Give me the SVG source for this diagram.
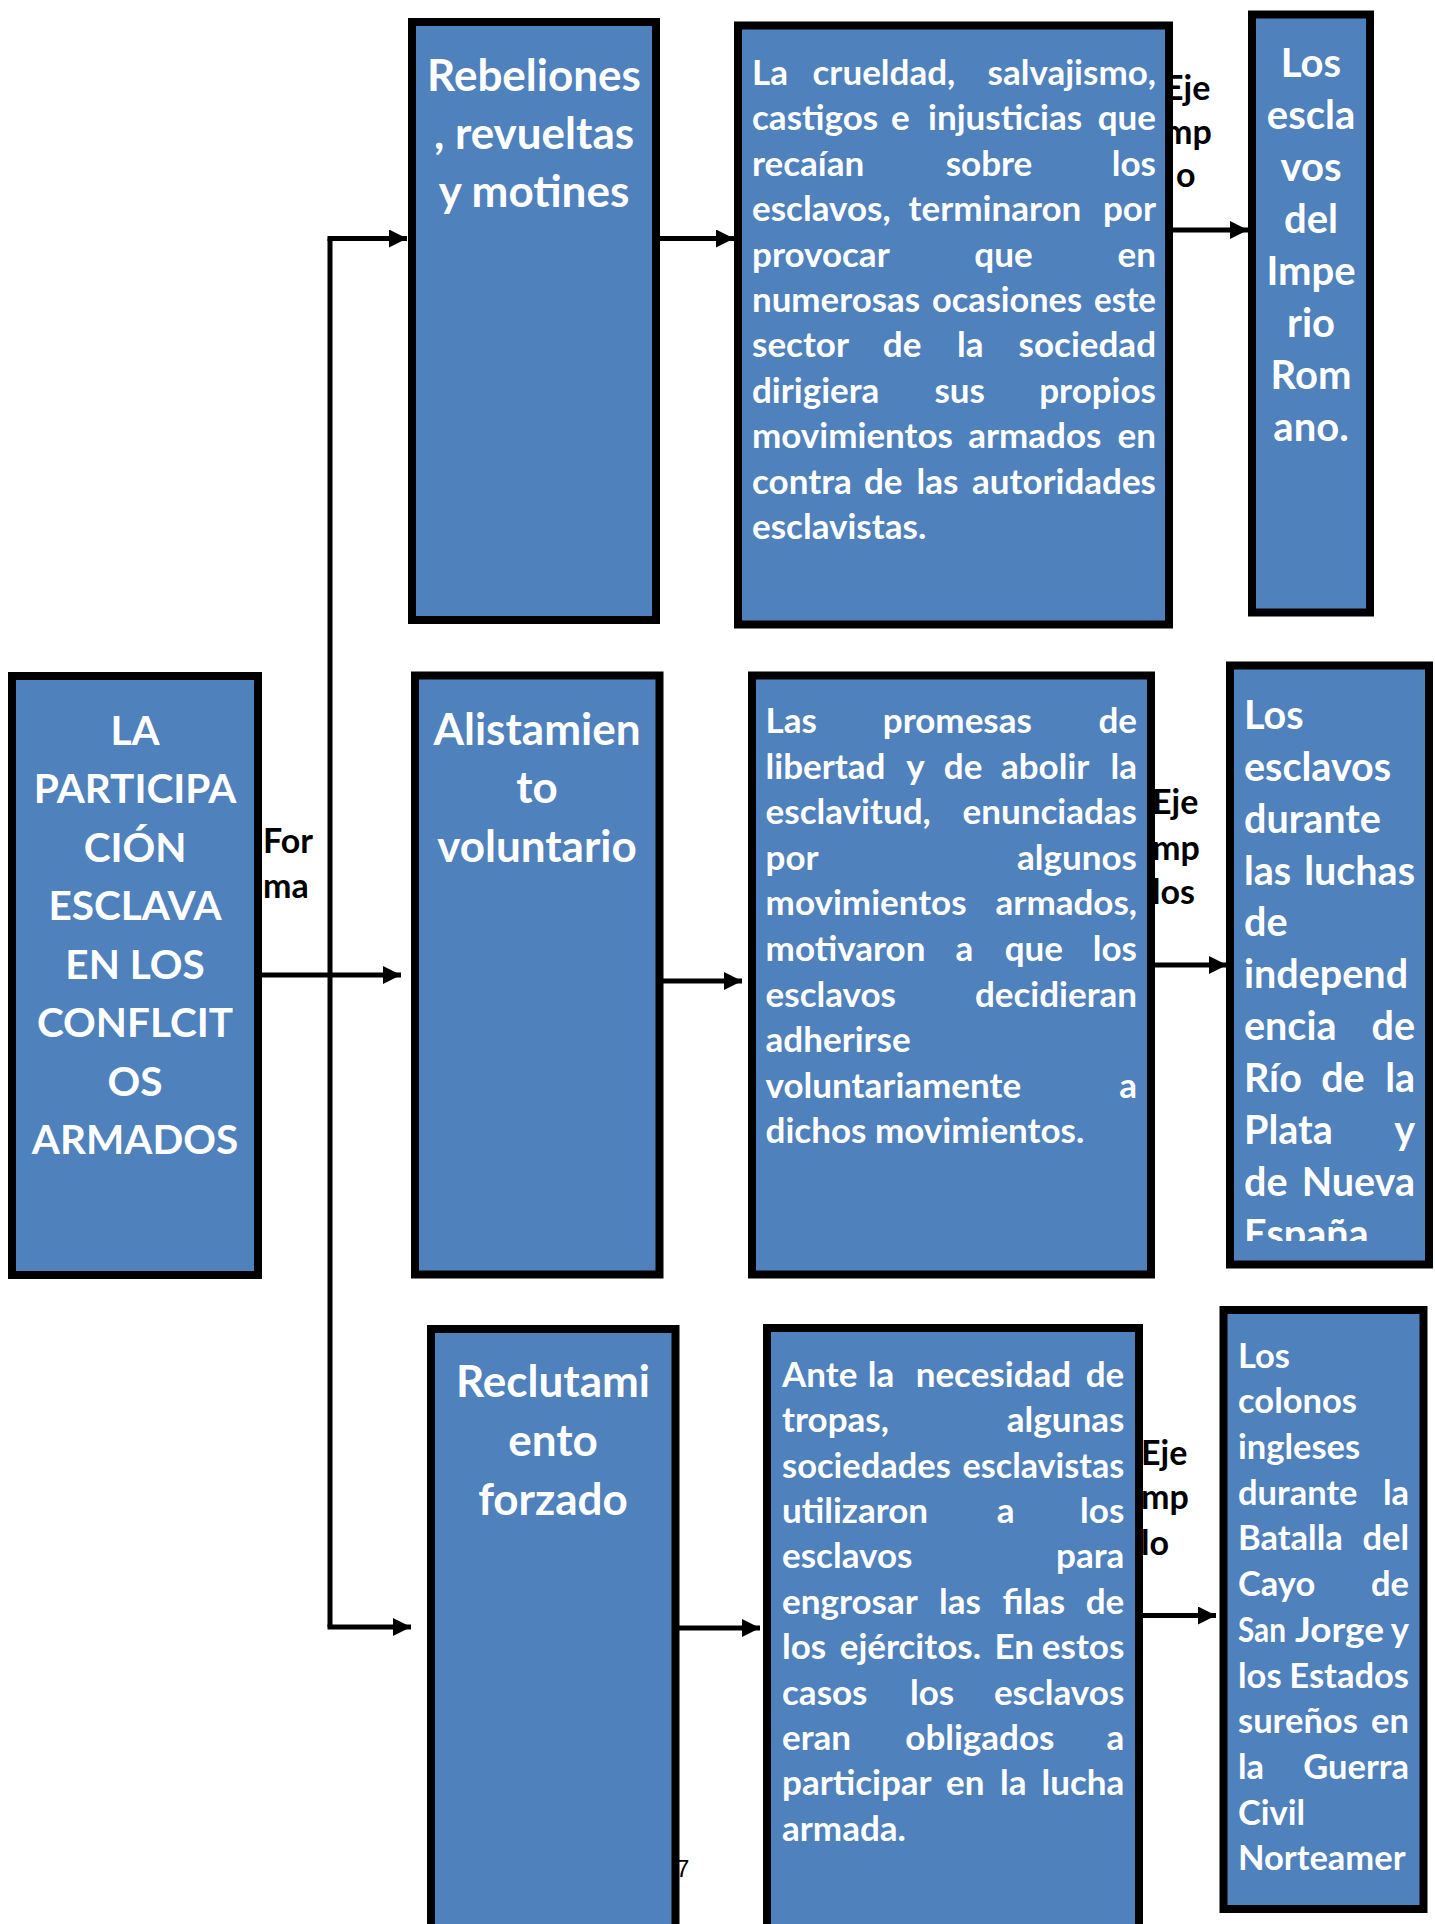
<svg xmlns="http://www.w3.org/2000/svg" width="1435" height="1924" viewBox="0 0 1435 1924">
<style>
.box{fill:#4F81BD;stroke:#000;stroke-width:8}
.w{font-family:Lato,"Open Sans","Liberation Sans",sans-serif;font-weight:700;fill:#fff}
.ttl{font-size:44px;text-anchor:middle}
.ctr{font-size:40.5px;text-anchor:middle}
.body{font-size:35px}
.b4{font-size:40px;text-anchor:middle}
.b6{font-size:39.5px}
.b9{font-size:34.5px}
.r{text-anchor:end}
.lbl{font-family:Lato,"Open Sans","Liberation Sans",sans-serif;font-weight:700;font-size:34px;fill:#000}
.conn{stroke:#000;stroke-width:5;fill:none}
</style>
<defs>
<marker id="ah" viewBox="0 0 18 18" refX="18" refY="9" markerWidth="18" markerHeight="18" markerUnits="userSpaceOnUse" orient="auto">
<path d="M0,0 L18,9 L0,18 z" fill="#000"/>
</marker>
<clipPath id="c6"><rect x="1234" y="668" width="192" height="573"/></clipPath>
</defs>
<rect width="1435" height="1924" fill="#fff"/>

<g id="labels">
<text class="lbl"><tspan x="263" y="852.5">For</tspan><tspan x="263" y="898">ma</tspan></text>
<text class="lbl"><tspan x="1164" y="99.6">Eje</tspan><tspan x="1164" y="143.5">mp</tspan><tspan x="1176" y="187">o</tspan></text>
<text class="lbl"><tspan x="1152" y="814">Eje</tspan><tspan x="1152" y="859.5">mp</tspan><tspan x="1152" y="904">los</tspan></text>
<text class="lbl"><tspan x="1141" y="1465">Eje</tspan><tspan x="1141" y="1509">mp</tspan><tspan x="1141" y="1554.7">lo</tspan></text>
<text x="676" y="1877" font-family="Liberation Sans,sans-serif" font-size="24" fill="#000">7</text>
</g>

<g id="connectors">
<path class="conn" d="M262,975 H401" marker-end="url(#ah)"/>
<path class="conn" d="M330,1627 V238.5"/>
<path class="conn" d="M327.5,238.5 H407" marker-end="url(#ah)"/>
<path class="conn" d="M327.5,1627 H411" marker-end="url(#ah)"/>
<path class="conn" d="M660,238.5 H734" marker-end="url(#ah)"/>
<path class="conn" d="M1173,230 H1248" marker-end="url(#ah)"/>
<path class="conn" d="M663,981 H742" marker-end="url(#ah)"/>
<path class="conn" d="M1151,965 H1227" marker-end="url(#ah)"/>
<path class="conn" d="M679,1628 H760" marker-end="url(#ah)"/>
<path class="conn" d="M1143,1615.5 H1216" marker-end="url(#ah)"/>
</g>

<g id="node-center">
<rect class="box" x="12" y="676" width="246" height="599"/>
<text class="w ctr"><tspan x="135" y="744.6">LA</tspan><tspan x="135" y="803.1">PARTICIPA</tspan><tspan x="135" y="861.6">CIÓN</tspan><tspan x="135" y="920.1">ESCLAVA</tspan><tspan x="135" y="978.6">EN LOS</tspan><tspan x="135" y="1037.1">CONFLCIT</tspan><tspan x="135" y="1095.6">OS</tspan><tspan x="135" y="1154.1">ARMADOS</tspan></text>
</g>

<g id="node-rebeliones">
<rect class="box" x="412" y="22" width="244" height="598"/>
<text class="w ttl"><tspan x="534" y="90.5">Rebeliones</tspan><tspan x="534" y="148.5">, revueltas</tspan><tspan x="534" y="206.5">y motines</tspan></text>
</g>

<g id="node-texto1">
<rect class="box" x="738" y="25.5" width="431" height="599"/>
<text class="w body"><tspan x="752" y="85">La</tspan><tspan x="812.5" y="85">crueldad,</tspan><tspan class="r" x="1156" y="85">salvajismo,</tspan><tspan x="752" y="130.4">castigos</tspan><tspan x="891" y="130.4">e</tspan><tspan x="928" y="130.4">injusticias</tspan><tspan class="r" x="1156" y="130.4">que</tspan><tspan x="752" y="175.8">recaían</tspan><tspan x="945.7" y="175.8">sobre</tspan><tspan class="r" x="1156" y="175.8">los</tspan><tspan x="752" y="221.2">esclavos,</tspan><tspan x="908.6" y="221.2">terminaron</tspan><tspan class="r" x="1156" y="221.2">por</tspan><tspan x="752" y="266.6">provocar</tspan><tspan x="974.3" y="266.6">que</tspan><tspan class="r" x="1156" y="266.6">en</tspan><tspan x="752" y="312" textLength="168" lengthAdjust="spacingAndGlyphs">numerosas</tspan><tspan x="932" y="312" textLength="150" lengthAdjust="spacingAndGlyphs">ocasiones</tspan><tspan class="r" x="1156" y="312" textLength="62" lengthAdjust="spacingAndGlyphs">este</tspan><tspan x="752" y="357.4">sector</tspan><tspan x="882.8" y="357.4">de</tspan><tspan x="957" y="357.4">la</tspan><tspan class="r" x="1156" y="357.4">sociedad</tspan><tspan x="752" y="402.8">dirigiera</tspan><tspan x="934.4" y="402.8">sus</tspan><tspan class="r" x="1156" y="402.8">propios</tspan><tspan x="752" y="448.2">movimientos</tspan><tspan x="968.2" y="448.2">armados</tspan><tspan class="r" x="1156" y="448.2">en</tspan><tspan x="752" y="493.6">contra</tspan><tspan x="864" y="493.6">de</tspan><tspan x="916.6" y="493.6">las</tspan><tspan class="r" x="1156" y="493.6">autoridades</tspan><tspan x="752" y="539">esclavistas.</tspan></text>
</g>

<g id="node-ejemplo1">
<rect class="box" x="1252" y="14.5" width="118" height="598"/>
<text class="w b4"><tspan x="1311" y="77">Los</tspan><tspan x="1311" y="129">escla</tspan><tspan x="1311" y="181">vos</tspan><tspan x="1311" y="233">del</tspan><tspan x="1311" y="285">Impe</tspan><tspan x="1311" y="337">rio</tspan><tspan x="1311" y="389">Rom</tspan><tspan x="1311" y="441">ano.</tspan></text>
</g>

<g id="node-alistamiento">
<rect class="box" x="415" y="675.5" width="244.5" height="599"/>
<text class="w ttl"><tspan x="537" y="744.6">Alistamien</tspan><tspan x="537" y="803">to</tspan><tspan x="537" y="861.5">voluntario</tspan></text>
</g>

<g id="node-texto2">
<rect class="box" x="752" y="675.5" width="399" height="599"/>
<text class="w body"><tspan x="765.6" y="733">Las</tspan><tspan x="882.8" y="733">promesas</tspan><tspan class="r" x="1137" y="733">de</tspan><tspan x="765.6" y="778.6">libertad</tspan><tspan x="906.3" y="778.6">y</tspan><tspan x="943.8" y="778.6">de</tspan><tspan x="1001" y="778.6">abolir</tspan><tspan class="r" x="1137" y="778.6">la</tspan><tspan x="765.6" y="824.2">esclavitud,</tspan><tspan class="r" x="1137" y="824.2">enunciadas</tspan><tspan x="765.6" y="869.8">por</tspan><tspan class="r" x="1137" y="869.8">algunos</tspan><tspan x="765.6" y="915.4">movimientos</tspan><tspan class="r" x="1137" y="915.4">armados,</tspan><tspan x="765.6" y="961">motivaron</tspan><tspan x="955.5" y="961">a</tspan><tspan x="1004.7" y="961">que</tspan><tspan class="r" x="1137" y="961">los</tspan><tspan x="765.6" y="1006.6">esclavos</tspan><tspan class="r" x="1137" y="1006.6">decidieran</tspan><tspan x="765.6" y="1052.2">adherirse</tspan><tspan x="765.6" y="1097.8">voluntariamente</tspan><tspan class="r" x="1137" y="1097.8">a</tspan><tspan x="765.6" y="1143.4">dichos movimientos.</tspan></text>
</g>

<g id="node-ejemplo2">
<rect class="box" x="1230" y="665.5" width="199" height="599"/>
<text class="w b6" clip-path="url(#c6)"><tspan x="1244" y="728.8">Los</tspan><tspan x="1244" y="780.7">esclavos</tspan><tspan x="1244" y="832.6">durante</tspan><tspan x="1244" y="884.5">las</tspan><tspan class="r" x="1415" y="884.5">luchas</tspan><tspan x="1244" y="936.4">de</tspan><tspan x="1244" y="988.3">independ</tspan><tspan x="1244" y="1040.2">encia</tspan><tspan class="r" x="1415" y="1040.2">de</tspan><tspan x="1244" y="1092.1">Río</tspan><tspan x="1321.2" y="1092.1">de</tspan><tspan class="r" x="1415" y="1092.1">la</tspan><tspan x="1244" y="1144">Plata</tspan><tspan class="r" x="1415" y="1144">y</tspan><tspan x="1244" y="1195.9">de</tspan><tspan class="r" x="1415" y="1195.9">Nueva</tspan><tspan x="1244" y="1247.8">España</tspan></text>
</g>

<g id="node-reclutamiento">
<rect class="box" x="431" y="1329" width="244.5" height="700"/>
<text class="w ttl"><tspan x="553" y="1396.7">Reclutami</tspan><tspan x="553" y="1455.5">ento</tspan><tspan x="553" y="1514.5">forzado</tspan></text>
</g>

<g id="node-texto3">
<rect class="box" x="767" y="1328" width="372" height="700"/>
<text class="w body"><tspan x="782" y="1386.7">Ante</tspan><tspan x="867.8" y="1386.7">la</tspan><tspan x="915.7" y="1386.7">necesidad</tspan><tspan class="r" x="1124.3" y="1386.7">de</tspan><tspan x="782" y="1432.1">tropas,</tspan><tspan class="r" x="1124.3" y="1432.1">algunas</tspan><tspan x="782" y="1477.5" textLength="168.8" lengthAdjust="spacingAndGlyphs">sociedades</tspan><tspan class="r" x="1124.3" y="1477.5" textLength="161.8" lengthAdjust="spacingAndGlyphs">esclavistas</tspan><tspan x="782" y="1522.9">utilizaron</tspan><tspan x="996.8" y="1522.9">a</tspan><tspan class="r" x="1124.3" y="1522.9">los</tspan><tspan x="782" y="1568.3">esclavos</tspan><tspan class="r" x="1124.3" y="1568.3">para</tspan><tspan x="782" y="1613.7">engrosar</tspan><tspan x="939.1" y="1613.7">las</tspan><tspan x="1002.4" y="1613.7">filas</tspan><tspan class="r" x="1124.3" y="1613.7">de</tspan><tspan x="782" y="1659.1">los</tspan><tspan x="839.7" y="1659.1">ejércitos.</tspan><tspan x="994.4" y="1659.1">En</tspan><tspan class="r" x="1124.3" y="1659.1">estos</tspan><tspan x="782" y="1704.5">casos</tspan><tspan x="910" y="1704.5">los</tspan><tspan class="r" x="1124.3" y="1704.5">esclavos</tspan><tspan x="782" y="1749.9">eran</tspan><tspan x="905.3" y="1749.9">obligados</tspan><tspan class="r" x="1124.3" y="1749.9">a</tspan><tspan x="782" y="1795.3">participar</tspan><tspan x="946.1" y="1795.3">en</tspan><tspan x="1000" y="1795.3">la</tspan><tspan class="r" x="1124.3" y="1795.3">lucha</tspan><tspan x="782" y="1840.7">armada.</tspan></text>
</g>

<g id="node-ejemplo3">
<rect class="box" x="1223.5" y="1310" width="200" height="599"/>
<text class="w b9"><tspan x="1238" y="1367.6">Los</tspan><tspan x="1238" y="1413.3">colonos</tspan><tspan x="1238" y="1459">ingleses</tspan><tspan x="1238" y="1504.7">durante</tspan><tspan class="r" x="1409" y="1504.7">la</tspan><tspan x="1238" y="1550.4">Batalla</tspan><tspan class="r" x="1409" y="1550.4">del</tspan><tspan x="1238" y="1596.1">Cayo</tspan><tspan class="r" x="1409" y="1596.1">de</tspan><tspan x="1238" y="1641.8" textLength="48" lengthAdjust="spacingAndGlyphs">San</tspan><tspan x="1295" y="1641.8" textLength="89" lengthAdjust="spacingAndGlyphs">Jorge</tspan><tspan class="r" x="1409" y="1641.8">y</tspan><tspan x="1238" y="1687.5">los</tspan><tspan class="r" x="1409" y="1687.5">Estados</tspan><tspan x="1238" y="1733.2">sureños</tspan><tspan class="r" x="1409" y="1733.2">en</tspan><tspan x="1238" y="1778.9">la</tspan><tspan class="r" x="1409" y="1778.9">Guerra</tspan><tspan x="1238" y="1824.6">Civil</tspan><tspan x="1238" y="1870.3">Norteamer</tspan></text>
</g>
</svg>
